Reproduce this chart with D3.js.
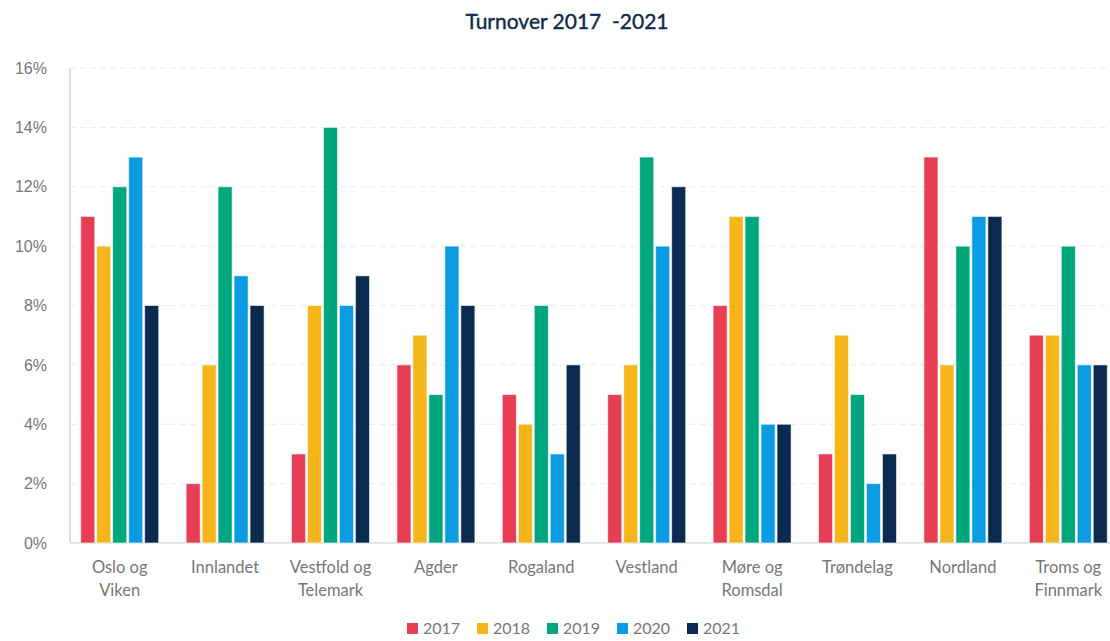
<!DOCTYPE html>
<html>
<head>
<meta charset="utf-8">
<script src="https://cdn.jsdelivr.net/npm/d3@7"></script>
<style>
  body { margin: 0; background: #fff; }
  svg { display: block; font-family: "Lato", "Open Sans", sans-serif; }
</style>
</head>
<body>
<div id="chart"></div>
<script>
// data
const regions = [["Oslo og", "Viken"], ["Innlandet"], ["Vestfold og", "Telemark"], ["Agder"], ["Rogaland"],
                 ["Vestland"], ["Møre og", "Romsdal"], ["Trøndelag"], ["Nordland"], ["Troms og", "Finnmark"]];
const years = ["2017", "2018", "2019", "2020", "2021"];
const v2017 = [11, 2, 3, 6, 5, 5, 8, 3, 13, 7];
const v2018 = [10, 6, 8, 7, 4, 6, 11, 7, 6, 7];
const v2019 = [12, 12, 14, 5, 8, 13, 11, 5, 10, 10];
const v2020 = [13, 9, 8, 10, 3, 10, 4, 2, 11, 6];
const v2021 = [8, 8, 9, 8, 6, 12, 4, 3, 11, 6];
const yTicks = [0, 2, 4, 6, 8, 10, 12, 14, 16];
const colors = ["#e83e55", "#f5b51b", "#00a67e", "#0a9ce2", "#0b2a4f"];

const series = [v2017, v2018, v2019, v2020, v2021];
const width = 1110, height = 641;
const margin = {top: 68, right: -11, bottom: 98, left: 67};

const svg = d3.select("#chart").append("svg")
    .attr("width", width).attr("height", height);

// title
svg.append("text")
    .attr("x", 567).attr("y", 29)
    .attr("text-anchor", "middle")
    .attr("xml:space", "preserve")
    .style("white-space", "pre")
    .style("font-size", "21px")
    .style("fill", "#0f2a4a")
    .style("stroke", "#0f2a4a")
    .style("stroke-width", "0.4px")
    .text("Turnover 2017  -2021");

const g = svg.append("g").attr("transform", "translate(" + margin.left + "," + margin.top + ")");
const w = width - margin.left - margin.right;
const h = height - margin.top - margin.bottom;

const x0 = d3.scaleBand().domain(d3.range(regions.length)).range([0, w]).paddingInner(0.26).paddingOuter(0.13);
const x1 = d3.scaleBand().domain(years).range([0, x0.bandwidth()]).paddingInner(0.12);
const y = d3.scaleLinear().domain([0, 16]).range([h, 0]);

// gridlines
g.append("g").selectAll("line")
    .data(yTicks.slice(1))
    .enter().append("line")
    .attr("x1", 3).attr("x2", w)
    .attr("y1", d => y(d)).attr("y2", d => y(d))
    .attr("stroke", "#ececec")
    .attr("stroke-dasharray", "6,4");

// y axis labels
const yAxis = g.append("g")
    .call(d3.axisLeft(y).tickValues(yTicks).tickFormat(d => d + "%").tickSize(0).tickPadding(20));
yAxis.select(".domain").remove();
yAxis.selectAll("text").style("font-size", "16px").style("fill", "#777");

// axis lines
g.append("line").attr("x1", 3).attr("x2", 3).attr("y1", 0).attr("y2", h)
    .attr("stroke", "#ddd").attr("stroke-width", 2);
g.append("line").attr("x1", 3).attr("x2", w).attr("y1", h).attr("y2", h)
    .attr("stroke", "#ddd").attr("stroke-width", 1.5);

// bars
const groups = g.selectAll(".grp")
    .data(regions.map((r, i) => i))
    .enter().append("g")
    .attr("class", "grp")
    .attr("transform", i => "translate(" + x0(i) + ",0)");

groups.selectAll("rect")
    .data(i => years.map((yr, k) => ({yr: yr, k: k, v: series[k][i]})))
    .enter().append("rect")
    .attr("x", d => x1(d.yr))
    .attr("y", d => y(d.v))
    .attr("width", x1.bandwidth())
    .attr("height", d => h - y(d.v))
    .attr("fill", d => colors[d.k])
    .attr("stroke", "#fff")
    .attr("stroke-opacity", 0.6)
    .attr("stroke-width", 1);

// category labels
regions.forEach((lines, i) => {
    const t = g.append("text")
        .attr("x", x0(i) + x0.bandwidth() / 2)
        .attr("y", h + 30)
        .attr("text-anchor", "middle")
        .style("font-size", "16.5px")
        .style("fill", "#777");
    lines.forEach((ln, j) => {
        t.append("tspan").attr("x", x0(i) + x0.bandwidth() / 2).attr("dy", j == 0 ? 0 : 23).text(ln);
    });
});

// legend
const legend = svg.append("g").attr("transform", "translate(407,634)");
years.forEach((yr, k) => {
    const item = legend.append("g").attr("transform", "translate(" + (k * 70) + ",0)");
    item.append("rect").attr("x", 0).attr("y", -11).attr("width", 11).attr("height", 11).attr("fill", colors[k]);
    item.append("text").attr("x", 16).attr("y", 0).style("font-size", "16px").style("fill", "#777").text(yr);
});
</script>
</body>
</html>
